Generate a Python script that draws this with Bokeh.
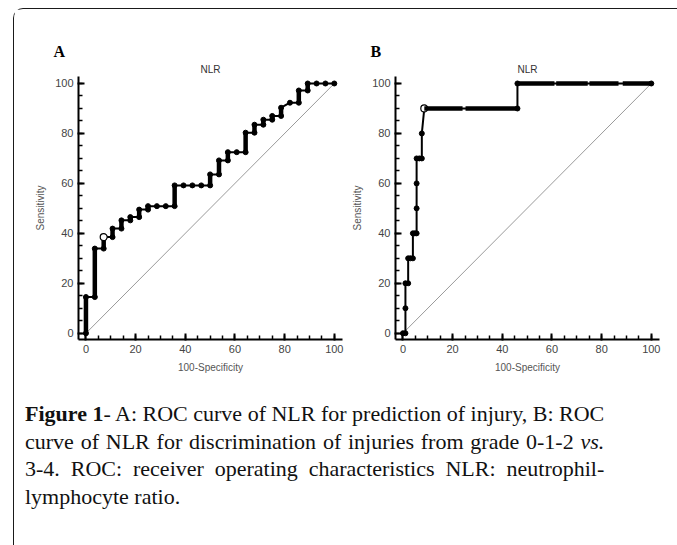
from bokeh.plotting import figure
from bokeh.models import SingleIntervalTicker, Range1d, Div, Title
from bokeh.layouts import row, column
from bokeh.embed import file_html
from bokeh.resources import INLINE

# ---------------- data ----------------
# Panel A: ROC operating points (100-Specificity, Sensitivity)
a_fpr = [0, 0, 3.57, 3.57, 7.14, 7.14, 10.71, 10.71, 14.29, 14.29, 17.86, 17.86,
         21.43, 21.43, 25.0, 25.0, 28.57, 32.14, 35.71, 35.71, 39.29, 42.86, 46.43,
         50.0, 50.0, 53.57, 53.57, 57.14, 57.14, 60.71, 64.29, 64.29, 67.86, 67.86,
         71.43, 71.43, 75.0, 75.0, 78.57, 78.57, 82.14, 85.71, 85.71, 89.29, 89.29,
         92.86, 96.43, 100.0]
a_sens = [0, 14.5, 14.5, 33.9, 33.9, 38.5, 38.5, 41.9, 41.9, 45.2, 45.2, 46.5,
          46.5, 49.5, 49.5, 50.9, 50.9, 50.9, 50.9, 59.2, 59.2, 59.2, 59.2,
          59.2, 63.6, 63.6, 69.2, 69.2, 72.5, 72.5, 72.5, 80.3, 80.3, 83.5,
          83.5, 85.5, 85.5, 87.0, 87.0, 90.3, 92.3, 92.3, 97.2, 97.2, 100.0,
          100.0, 100.0, 100.0]
a_cut_fpr = [7.14]
a_cut_sens = [38.5]

# Panel B: ROC operating points
b_fpr = [0, 1.0, 1.0, 1.0, 2.1, 2.1, 3.0, 4.0, 4.0, 4.8, 5.5, 5.5, 5.5, 5.5,
         6.6, 7.6, 7.6, 8.6, 46.1, 46.1, 100.0]
b_sens = [0, 0, 10, 20, 20, 30, 30, 30, 40, 40, 40, 50, 60, 70,
          70, 70, 80, 90, 90, 100, 100]
b_cut_fpr = [8.6]
b_cut_sens = [90.0]
# Panel B: runs of densely packed operating points along the plateaus
b_run_sens = [90, 90, 100, 100, 100, 100]
b_run_from = [8.6, 25.2, 46.1, 61.7, 75.1, 88.5]
b_run_to = [24.0, 45.7, 61.0, 74.4, 86.8, 100.0]

diag_x = [0, 100]
diag_y = [0, 100]

caption_lines = [
    "<b>Figure 1</b>- A: ROC curve of NLR for prediction of injury, B: ROC",
    "curve of NLR for discrimination of injuries from grade 0-1-2 <i>vs.</i>",
    "3-4. ROC: receiver operating characteristics NLR: neutrophil-",
    "lymphocyte ratio.",
]

SANS = "Liberation Sans"
SERIF = "Liberation Serif"


def make_panel(letter, fpr, sens, cut_x, cut_y, min_left, min_right, thick_verticals):
    p = figure(frame_width=264, frame_height=263,
               x_range=Range1d(-3.0, 103.3), y_range=Range1d(-2.5, 102.8),
               min_border_left=min_left, min_border_right=min_right,
               min_border_top=67, min_border_bottom=39,
               toolbar_location=None, output_backend="svg",
               outline_line_color=None,
               background_fill_color="white", border_fill_color="white")
    p.grid.visible = False
    p.xaxis.axis_label = "100-Specificity"
    p.yaxis.axis_label = "Sensitivity"
    for ax in (p.xaxis[0], p.yaxis[0]):
        ax.ticker = SingleIntervalTicker(interval=20, num_minor_ticks=4)
        ax.axis_line_width = 2
        ax.axis_line_color = "black"
        ax.major_tick_line_width = 2
        ax.major_tick_line_color = "black"
        ax.major_tick_in = 6
        ax.major_tick_out = 1
        ax.minor_tick_line_width = 1.5
        ax.minor_tick_line_color = "black"
        ax.minor_tick_in = 4
        ax.minor_tick_out = 0
        ax.major_label_text_font = SANS
        ax.major_label_text_font_size = "11px"
        ax.major_label_text_color = "#444444"
        ax.major_label_standoff = 4
        ax.axis_label_text_font = SANS
        ax.axis_label_text_font_size = "10px"
        ax.axis_label_text_font_style = "normal"
        ax.axis_label_text_color = "#555555"
        ax.axis_label_standoff = 6

    # panel letter (outer title) and chart title "NLR" (next to the frame)
    p.title.text = letter
    p.title.align = "left"
    p.title.offset = -25
    p.title.text_font = SERIF
    p.title.text_font_size = "16px"
    p.title.text_font_style = "bold"
    p.title.text_color = "black"
    p.title.standoff = 0
    p.add_layout(Title(text="NLR", align="center", text_font=SANS,
                       text_font_style="normal", text_font_size="10px",
                       text_color="#333333", standoff=4), "above")

    # reference diagonal
    p.line(diag_x, diag_y, line_color="#9a9a9a", line_width=1)

    # ROC step curve
    p.line(fpr, sens, line_color="black", line_width=2)
    if thick_verticals:
        vx0, vy0, vx1, vy1 = [], [], [], []
        for i in range(len(fpr) - 1):
            if fpr[i] == fpr[i + 1]:
                vx0.append(fpr[i]); vy0.append(sens[i])
                vx1.append(fpr[i + 1]); vy1.append(sens[i + 1])
        p.segment(vx0, vy0, vx1, vy1, line_color="black", line_width=4.5)
    p.scatter(fpr, sens, size=5, color="black")
    p.scatter(cut_x, cut_y, size=7, fill_color="white", line_color="black", line_width=1.2)
    return p


pA = make_panel("A", a_fpr, a_sens, a_cut_fpr, a_cut_sens, 64, 4, True)
pB = make_panel("B", b_fpr, b_sens, b_cut_fpr, b_cut_sens, 49, 17, False)
pB.segment(b_run_from, b_run_sens, b_run_to, b_run_sens, line_color="black", line_width=4.5)

html = ('<div style="font-family: \'Liberation Serif\', \'Times New Roman\', serif; font-size: 22px; '
        'line-height: 27.5px; color: #111; padding: 17px 11px 0 6px;">')
for i, ln in enumerate(caption_lines):
    if i < len(caption_lines) - 1:
        st = "text-align: justify; text-align-last: justify;"
    else:
        st = "text-align: left;"
    html += '<div style="%s">%s</div>' % (st, ln)
html += "</div>"
cap = Div(text=html, width=662, height=158)

layout = column(row(pA, pB), cap, margin=(8, 0, 0, 13),
                styles={"border-left": "1.5px solid #1a1a1a",
                        "border-top": "1.5px solid #1a1a1a",
                        "border-top-left-radius": "10px",
                        "background": "white"})

open("out.html", "w").write(file_html(layout, INLINE))
